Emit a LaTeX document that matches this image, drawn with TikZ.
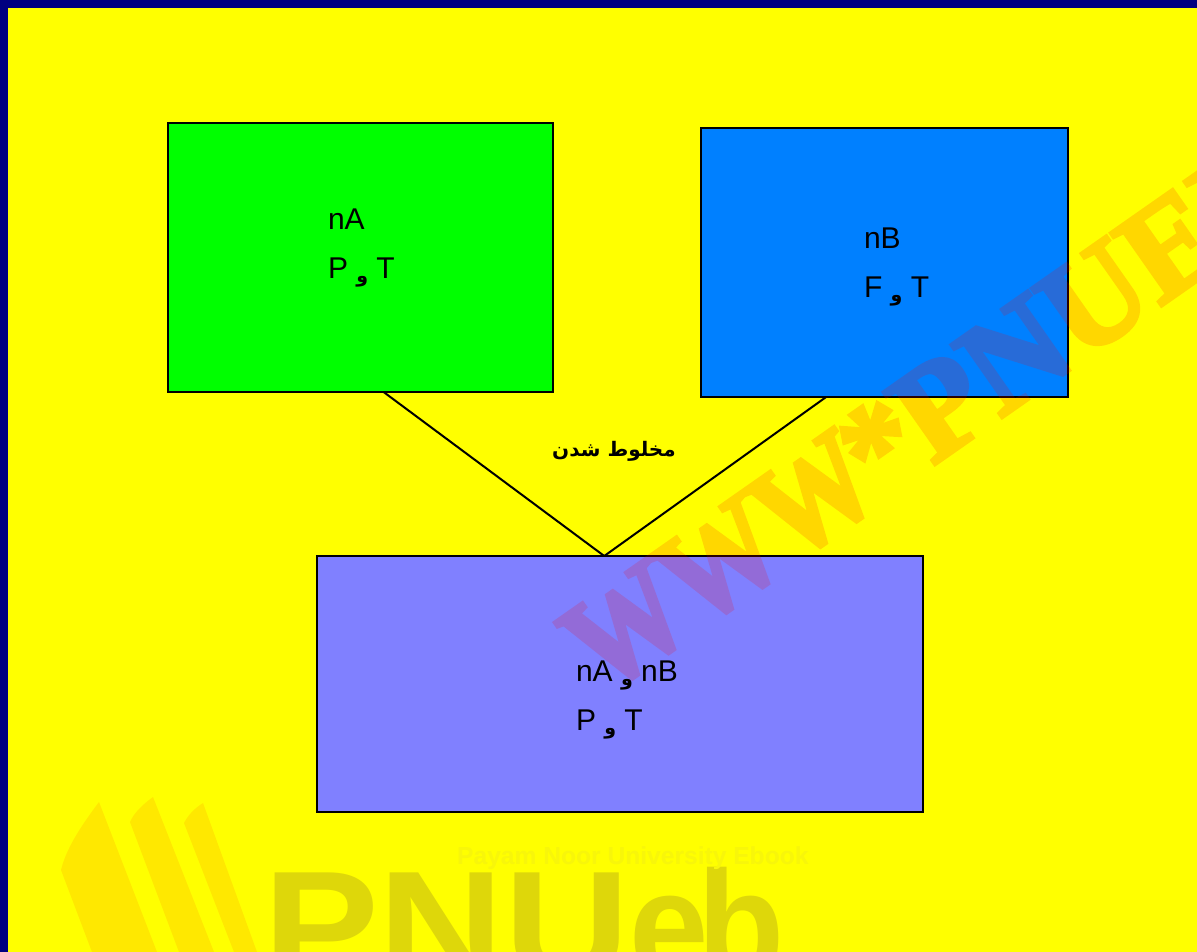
\documentclass[tikz,border=0pt]{standalone}
\usepackage{fontspec}
\usetikzlibrary{calc}
\setmainfont{Liberation Sans}
\newfontfamily\wmfont[BoldFeatures={FakeBold=3,FakeStretch=0.85}]{Liberation Serif}
\newfontfamily\wmwide[BoldFeatures={FakeBold=3}]{Liberation Serif}
\newfontfamily\pnufont[BoldFeatures={FakeStretch=1.12}]{Liberation Sans}
\newfontfamily\ebfont[BoldFeatures={FakeStretch=0.92}]{Liberation Sans}
\newfontfamily\arabicfont[Script=Arabic]{DejaVu Sans}
\TeXXeTstate=1
\definecolor{navyframe}{RGB}{0,0,128}
\definecolor{pageyellow}{RGB}{255,255,0}
\definecolor{logostripe}{RGB}{255,232,0}
\definecolor{logotext}{RGB}{222,215,10}
\definecolor{logosub}{RGB}{248,246,10}
\definecolor{boxgreen}{RGB}{0,255,0}
\definecolor{boxblue}{RGB}{0,128,255}
\definecolor{boxviolet}{RGB}{128,128,255}
\newcommand{\fsz}[1]{\fontsize{#1}{#1}\selectfont}
\newcommand{\vav}{\raisebox{-4pt}{\arabicfont\bfseries\fsz{19}\beginR و\endR}}
\tikzset{
  panel/.style={draw=black,line width=2pt,inner sep=0pt,outer sep=0pt,anchor=north west},
  lbl/.style={inner sep=0pt,outer sep=0pt,anchor=base west,text=black,font=\fsz{30}},
  joint/.style={draw=black,line width=2pt}
}
\begin{document}
\begin{tikzpicture}[x=1pt,y=-1pt]
\useasboundingbox (0,0) rectangle (1197,952);
\clip (0,0) rectangle (1197,952);
\fill[navyframe] (0,0) rectangle (1197,952);
\fill[pageyellow] (8,8) rectangle (1197,952);
% logo
\fill[logostripe] (99,802) .. controls (78,830) and (66,850) .. (61,870) -- (92,952) -- (157,952) -- cycle;
\fill[logostripe] (153,797) .. controls (142,805) and (134,813) .. (130,822) -- (179,952) -- (214,952) -- cycle;
\fill[logostripe] (203,803) .. controls (195,808) and (188,815) .. (184,823) -- (234,952) -- (257,952) -- cycle;
\node[anchor=base west,inner sep=0pt,text=logotext,font=\fsz{155}] (logo) at (263,979) {\pnufont\bfseries PNU\ebfont\bfseries e\kern-12pt b};
\node[anchor=base west,inner sep=0pt,text=logosub,font=\bfseries\fsz{24.6}] (logosub) at (457,864) {Payam Noor University Ebook};
% boxes
\node[panel,fill=boxgreen,minimum width=385pt,minimum height=269pt] (boxA) at (168,123) {};
\node[panel,fill=boxblue,minimum width=367pt,minimum height=269pt] (boxB) at (701,128) {};
\node[panel,fill=boxviolet,minimum width=606pt,minimum height=256pt] (boxC) at (317,556) {};
% connectors
\coordinate (aout) at ($(boxA.south west)!0.56!(boxA.south east)$);
\coordinate (bout) at ($(boxB.south west)!0.341!(boxB.south east)$);
\coordinate (cin) at ($(boxC.north west)!0.474!(boxC.north east)$);
\draw[joint] (aout) -- (cin);
\draw[joint] (bout) -- (cin);
% texts
\node[lbl] (t1) at (328,230) {nA};
\node[lbl] (t2) at (328,279) {P \vav\ T};
\node[lbl] (t3) at (864,248) {nB};
\node[lbl] (t4) at (864,297) {F \vav\ T};
\node[lbl] (t5) at (576,681) {nA \vav\ nB};
\node[lbl] (t6) at (576,730) {P \vav\ T};
\node[inner sep=0pt,text=black] (mix) at (614,451) {\arabicfont\bfseries\fsz{20}\beginR مخلوط شدن\endR};
% watermark
\begin{scope}[transparency group,opacity=0.157]
\node[anchor=base west,inner sep=0pt,text=red,rotate=35,font=\fsz{135}] (wm) at (604,696) {\wmfont\bfseries WWW\kern-8pt\wmwide\bfseries *\kern-3pt PNUEB};
\end{scope}
\end{tikzpicture}
\end{document}
